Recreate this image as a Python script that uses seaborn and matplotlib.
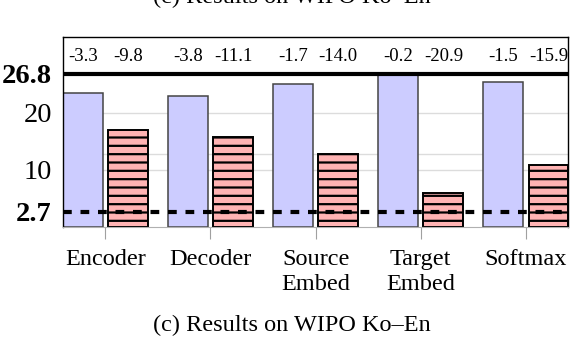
import matplotlib
matplotlib.use("Agg")
import matplotlib.pyplot as plt
import seaborn as sns
import pandas as pd

# ---- data ----
categories = ["Encoder", "Decoder", "Source\nEmbed", "Target\nEmbed", "Softmax"]
series_names = ["first", "second"]
first_vals = [23.5, 23.0, 25.1, 26.6, 25.3]
second_vals = [17.0, 15.7, 12.8, 5.9, 10.9]
first_delta = ["-3.3", "-3.8", "-1.7", "-0.2", "-1.5"]
second_delta = ["-9.8", "-11.1", "-14.0", "-20.9", "-15.9"]
upper_ref = 26.8
lower_ref = 2.7
ytick_vals = [2.7, 10, 20, 26.8]
ytick_labels = ["2.7", "10", "20", "26.8"]
grid_vals = [10, 12.8, 20]
caption = "(c) Results on WIPO Ko\u2013En"

df = pd.DataFrame({
    "category": categories * 2,
    "series": [series_names[0]] * len(categories) + [series_names[1]] * len(categories),
    "value": first_vals + second_vals,
})

sns.set_style("white")
plt.rcParams["font.family"] = ["Liberation Serif", "DejaVu Serif"]
plt.rcParams["text.color"] = "black"
plt.rcParams["xtick.labelcolor"] = "black"
plt.rcParams["ytick.labelcolor"] = "black"
plt.rcParams["hatch.linewidth"] = 1.6
plt.rcParams["hatch.color"] = "black"

fig = plt.figure(figsize=(5.70, 3.46), dpi=100)
ax = fig.add_axes([63 / 570, 1 - 227 / 346, (568 - 63) / 570, (227 - 37) / 346])

palette = {series_names[0]: "#ccccff", series_names[1]: "#ffb3b3"}
sns.barplot(data=df, x="category", y="value", hue="series", order=categories,
            hue_order=series_names, palette=palette, width=0.86, gap=0.12,
            saturation=1, legend=False, ax=ax, zorder=2)

for i, cont in enumerate(ax.containers):
    for p in cont.patches:
        if i == 0:
            p.set_edgecolor("#444444")
            p.set_linewidth(1.1)
        else:
            p.set_edgecolor("black")
            p.set_linewidth(1.4)
            p.set_hatch("--")

ax.set_xlim(-0.402, 4.40)
ax.set_ylim(0, 33.25)

# grid
for g in grid_vals:
    ax.axhline(g, color="#dcdcdc", lw=1.0, zorder=0)

# reference lines
ax.axhline(upper_ref, color="black", lw=3.0, zorder=4)
ax.axhline(lower_ref, color="black", lw=3.0, linestyle=(0, (2.1, 2.1)), zorder=4)

# annotations above
for i, cont in enumerate(ax.containers):
    labels = first_delta if i == 0 else second_delta
    for p, lab in zip(cont.patches, labels):
        ax.text(p.get_x() + p.get_width() / 2, 29.9, lab, ha="center", va="center",
                fontsize=13.5, color="black")

ax.set_yticks(ytick_vals)
ax.set_yticklabels(ytick_labels, fontsize=20.5, color="black")
for t in ax.get_yticklabels():
    if t.get_text() in ("2.7", "26.8"):
        t.set_fontweight("bold")
ax.tick_params(axis="y", left=False, length=0, pad=8)
ax.set_xticks(range(len(categories)))
ax.set_xticklabels(categories, fontsize=17.5, linespacing=1.25, color="black")
ax.tick_params(axis="x", bottom=True, length=8.6, width=0.8, color="#a0a0a0",
               pad=7, direction="out")

ax.set_xlabel("")
ax.set_ylabel("")
for s in ["left", "right", "top"]:
    ax.spines[s].set_color("black")
    ax.spines[s].set_linewidth(1.0)
ax.spines["bottom"].set_color("#b0b0b0")
ax.spines["bottom"].set_linewidth(0.8)

fig.text(291.5 / 570, 1 - 331 / 346, caption, ha="center", va="baseline", fontsize=17.5)
fig.text(291.5 / 570, 1 - 3.5 / 346, caption, ha="center", va="baseline", fontsize=17.5)

fig.savefig("out.png", dpi=100)
